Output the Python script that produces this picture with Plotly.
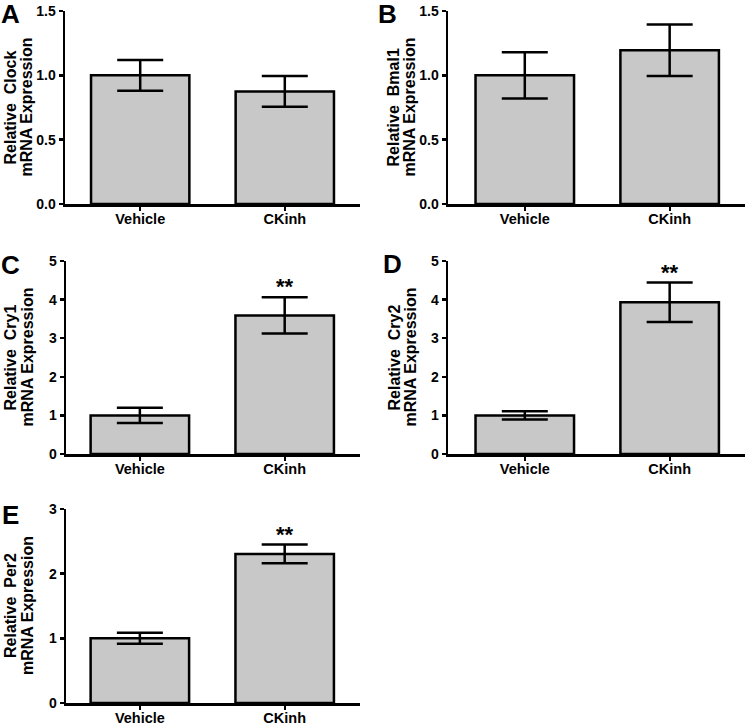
import plotly.graph_objects as go

categories = ["Vehicle", "CKinh"]
genes = ["Clock", "Bmal1", "Cry1", "Cry2", "Per2"]
panel_letters = ["A", "B", "C", "D", "E"]
means = [[1.0, 0.875], [1.0, 1.195], [1.0, 3.59], [1.0, 3.93], [1.0, 2.305]]
errors = [[0.12, 0.12], [0.18, 0.20], [0.20, 0.47], [0.105, 0.51], [0.085, 0.145]]
y_max = [1.5, 1.5, 5, 5, 3]
y_ticks = [[0.0, 0.5, 1.0, 1.5], [0.0, 0.5, 1.0, 1.5], [0, 1, 2, 3, 4, 5], [0, 1, 2, 3, 4, 5], [0, 1, 2, 3]]
y_tickfmt = [".1f", ".1f", "d", "d", "d"]
significance = [["", ""], ["", ""], ["", "**"], ["", "**"], ["", "**"]]

W, H = 745, 725
FONT = "Liberation Sans, Arial, sans-serif"

# panel geometry in pixels (left, right, top, bottom of plot area)
geom = [
    (65, 360, 11, 204),
    (448, 745, 11, 204),
    (66, 360, 261, 454),
    (448, 745, 261, 454),
    (66, 360, 509, 703),
]
xranges = [(-0.52, 1.52), (-0.53, 1.52), (-0.51, 1.52), (-0.53, 1.52), (-0.51, 1.52)]
letter_pos = [(10, 14), (388, 14), (10, 265), (393, 264), (10, 515)]
title_x = [(10, 26), (393, 409), (10, 27), (394, 410), (10, 27)]

fig = go.Figure()
layout = dict(
    width=W, height=H, autosize=False,
    margin=dict(l=0, r=0, t=0, b=0, autoexpand=False),
    paper_bgcolor="white", plot_bgcolor="white",
    showlegend=False, bargap=0,
    annotations=[],
)

for i in range(5):
    l, r, t, b = geom[i]
    xa = "x" if i == 0 else f"x{i+1}"
    ya = "y" if i == 0 else f"y{i+1}"
    fig.add_trace(go.Bar(
        x=[0, 1], y=means[i], width=0.68,
        xaxis=xa, yaxis=ya,
        marker=dict(color="#c8c8c8", line=dict(color="black", width=2.5)),
        error_y=dict(type="data", array=errors[i], visible=True,
                     color="black", thickness=2.5, width=23),
        hoverinfo="skip",
    ))
    key = "" if i == 0 else str(i + 1)
    layout["xaxis" + key] = dict(
        domain=[l / W, r / W], anchor=ya, range=list(xranges[i]),
        tickmode="array", tickvals=[0, 1], ticktext=categories,
        showline=True, linewidth=2.5, linecolor="black",
        ticks="outside", ticklen=4, tickwidth=2, tickcolor="black",
        ticklabelstandoff=-4,
        showgrid=False, zeroline=False, automargin=False,
        tickfont=dict(family=FONT, size=14.5, color="black", weight="bold"),
        fixedrange=True,
    )
    layout["yaxis" + key] = dict(
        domain=[1 - b / H, 1 - t / H], anchor=xa, range=[0, y_max[i]],
        tickmode="array", tickvals=y_ticks[i], tickformat=y_tickfmt[i],
        showline=True, linewidth=2.5, linecolor="black",
        ticks="outside", ticklen=4, tickwidth=2.5, tickcolor="black",
        showgrid=False, zeroline=False, automargin=False,
        tickfont=dict(family=FONT, size=14, color="black", weight="bold"),
        fixedrange=True,
    )
    cy = 1 - ((t + b) / 2) / H
    layout["annotations"].append(dict(
        text="Relative\u00a0\u00a0" + genes[i], textangle=-90,
        x=title_x[i][0] / W, y=cy, xref="paper", yref="paper",
        xanchor="center", yanchor="middle", showarrow=False,
        font=dict(family=FONT, size=16, color="black", weight="bold"),
    ))
    layout["annotations"].append(dict(
        text="mRNA Expression", textangle=-90,
        x=title_x[i][1] / W, y=cy, xref="paper", yref="paper",
        xanchor="center", yanchor="middle", showarrow=False,
        font=dict(family=FONT, size=16, color="black", weight="bold"),
    ))
    lx, ly = letter_pos[i]
    layout["annotations"].append(dict(
        text=panel_letters[i], x=lx / W, y=1 - ly / H, xref="paper", yref="paper",
        xanchor="center", yanchor="middle", showarrow=False,
        font=dict(family=FONT, size=26, color="black", weight="bold"),
    ))
    for j in range(2):
        if significance[i][j]:
            layout["annotations"].append(dict(
                text=significance[i][j], x=j, y=means[i][j] + errors[i][j],
                xref=xa, yref=ya, xanchor="center", yanchor="bottom",
                showarrow=False, yshift=-4,
                font=dict(family=FONT, size=22, color="black", weight="bold"),
            ))

fig.update_layout(**layout)
fig.write_html(
    "out.html",
    config={"displayModeBar": False, "staticPlot": True},
    post_script="document.body.style.margin='0';document.body.style.padding='0';",
)
